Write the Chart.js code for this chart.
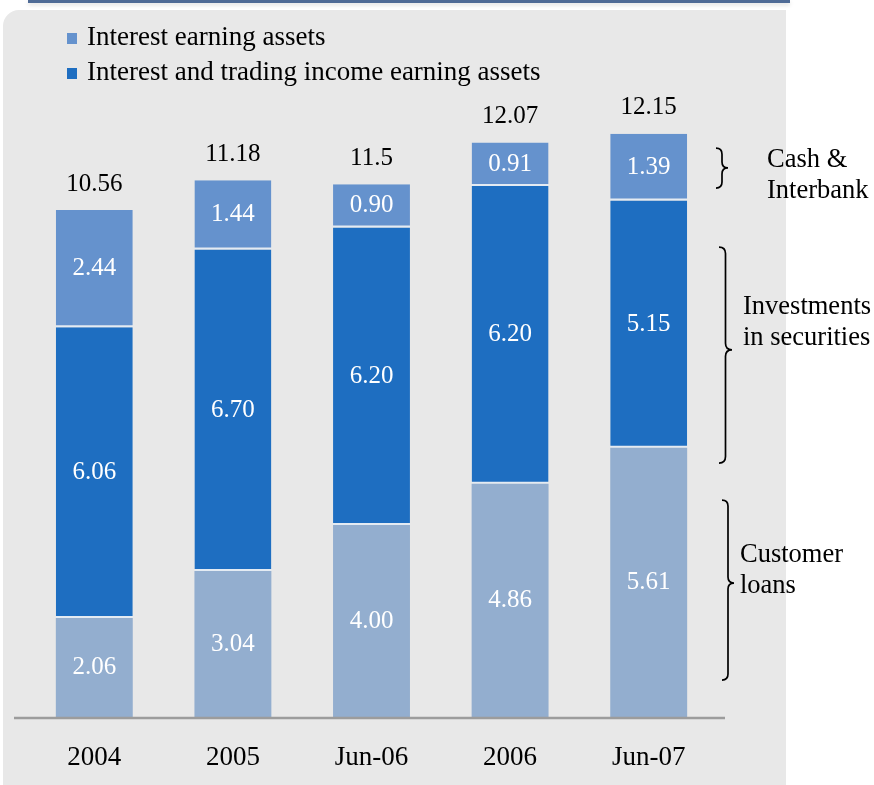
<!DOCTYPE html>
<html>
<head>
<meta charset="utf-8">
<script src="https://cdn.jsdelivr.net/npm/chart.js@4.4.1/dist/chart.umd.min.js"></script>
<style>
    html, body { margin: 0; padding: 0; background: #fff; }
    #wrap { position: relative; width: 874px; height: 785px; overflow: hidden; }
    #topLine { position: absolute; left: 28px; top: 0; width: 762px; height: 3px; background: #4f6b96; box-shadow: 0 2px 4px rgba(0,0,0,0.15); }
    #panel { position: absolute; left: 3px; top: 10px; width: 783px; height: 775px; background: #e8e8e8; border-top-left-radius: 16px; }
    #chart { position: absolute; left: 0; top: 0; }
</style>
</head>
<body>
<div id="wrap">
    <div id="topLine"></div>
    <div id="panel"></div>
    <canvas id="chart" width="874" height="785"></canvas>
</div>
<script>
// Data
const categories = ['2004', '2005', 'Jun-06', '2006', 'Jun-07'];
const customerLoans = [2.06, 3.04, 4.00, 4.86, 5.61];
const securities = [6.06, 6.70, 6.20, 6.20, 5.15];
const cashInterbank = [2.44, 1.44, 0.90, 0.91, 1.39];
const totalLabels = ['10.56', '11.18', '11.5', '12.07', '12.15'];

// Legend names (customer loans is not in the legend)
const legendNames = ['Interest earning assets', 'Interest and trading income earning assets'];

// Brace notes on the right, positions in value units
const notes = [
    { lines: ['Cash &', 'Interbank'], from: 11.85, to: 11.02, tip: 11.44, x: 716, w: 12, textX: 767, textAt: 11.6 },
    { lines: ['Investments', 'in securities'], from: 9.79, to: 5.29, tip: 7.65, x: 719, w: 13, textX: 743, textAt: 8.54 },
    { lines: ['Customer', 'loans'], from: 4.52, to: 0.77, tip: 2.79, x: 722, w: 12, textX: 740, textAt: 3.38 }
];

const SERIF = '"Liberation Serif", "Times New Roman", serif';
const colors = {
    loans: '#93aecf',
    securities: '#1e6ec1',
    cash: '#6592cd'
};

function drawBrace(ctx, x, y1, y2, ym, w) {
    const h = w / 2;
    ctx.beginPath();
    ctx.moveTo(x, y1);
    ctx.quadraticCurveTo(x + h, y1, x + h, y1 + h);
    ctx.lineTo(x + h, ym - h);
    ctx.quadraticCurveTo(x + h, ym, x + w, ym);
    ctx.quadraticCurveTo(x + h, ym, x + h, ym + h);
    ctx.lineTo(x + h, y2 - h);
    ctx.quadraticCurveTo(x + h, y2, x, y2);
    ctx.stroke();
}

const labelsPlugin = {
    id: 'labels',
    afterDatasetsDraw(chart) {
        const ctx = chart.ctx;
        const yScale = chart.scales.y;
        ctx.save();

        // axis line
        ctx.strokeStyle = '#9c9c9c';
        ctx.lineWidth = 2.5;
        ctx.beginPath();
        ctx.moveTo(14, yScale.getPixelForValue(0) + 1);
        ctx.lineTo(725, yScale.getPixelForValue(0) + 1);
        ctx.stroke();

        // segment values
        ctx.font = '25px ' + SERIF;
        ctx.textAlign = 'center';
        ctx.textBaseline = 'middle';
        ctx.fillStyle = '#ffffff';
        chart.data.datasets.forEach((ds, i) => {
            chart.getDatasetMeta(i).data.forEach((bar, j) => {
                ctx.fillText(ds.data[j].toFixed(2), bar.x, (bar.y + bar.base) / 2);
            });
        });

        // totals
        ctx.fillStyle = '#000000';
        chart.getDatasetMeta(2).data.forEach((bar, j) => {
            ctx.fillText(totalLabels[j], bar.x, bar.y - 26);
        });

        // braces and notes
        ctx.strokeStyle = '#000000';
        ctx.lineWidth = 1.7;
        ctx.textAlign = 'left';
        ctx.font = '26.5px ' + SERIF;
        notes.forEach(n => {
            drawBrace(ctx, n.x, yScale.getPixelForValue(n.from), yScale.getPixelForValue(n.to),
                yScale.getPixelForValue(n.tip), n.w);
            const ty = yScale.getPixelForValue(n.textAt);
            n.lines.forEach((line, k) => {
                ctx.fillText(line, n.textX, ty + k * 31);
            });
        });

        // legend
        ctx.font = '27px ' + SERIF;
        const legendItems = [
            { text: legendNames[0], color: colors.cash },
            { text: legendNames[1], color: colors.securities }
        ];
        legendItems.forEach((item, k) => {
            const y = 38 + k * 35;
            ctx.fillStyle = item.color;
            ctx.fillRect(67, y - 5, 10, 11);
            ctx.fillStyle = '#000000';
            ctx.fillText(item.text, 87, y);
        });

        ctx.restore();
    }
};

function createChart() {
    const ctx = document.getElementById('chart').getContext('2d');
    new Chart(ctx, {
        type: 'bar',
        data: {
            labels: categories,
            datasets: [
                {
                    label: 'Customer loans',
                    data: customerLoans,
                    backgroundColor: colors.loans,
                    borderWidth: 0
                },
                {
                    label: legendNames[1],
                    data: securities,
                    backgroundColor: colors.securities,
                    borderColor: '#e4ebf3',
                    borderWidth: { top: 0, left: 0, right: 0, bottom: 2 },
                    borderSkipped: false
                },
                {
                    label: legendNames[0],
                    data: cashInterbank,
                    backgroundColor: colors.cash,
                    borderColor: '#e4ebf3',
                    borderWidth: { top: 0, left: 0, right: 0, bottom: 2 },
                    borderSkipped: false
                }
            ]
        },
        options: {
            responsive: false,
            animation: false,
            layout: {
                padding: { left: 25, right: 156, top: 117, bottom: 14 }
            },
            plugins: {
                legend: { display: false },
                tooltip: { enabled: false }
            },
            datasets: {
                bar: {
                    categoryPercentage: 1,
                    barPercentage: 0.555
                }
            },
            scales: {
                x: {
                    stacked: true,
                    grid: { display: false, drawTicks: false },
                    border: { display: false },
                    ticks: {
                        color: '#000',
                        padding: 25,
                        font: { family: SERIF, size: 27 }
                    },
                    afterFit: scale => { scale.height = 54; }
                },
                y: {
                    stacked: true,
                    display: false,
                    min: 0,
                    max: 12.5
                }
            }
        },
        plugins: [labelsPlugin]
    });
}

document.addEventListener('DOMContentLoaded', createChart);
</script>
</body>
</html>
